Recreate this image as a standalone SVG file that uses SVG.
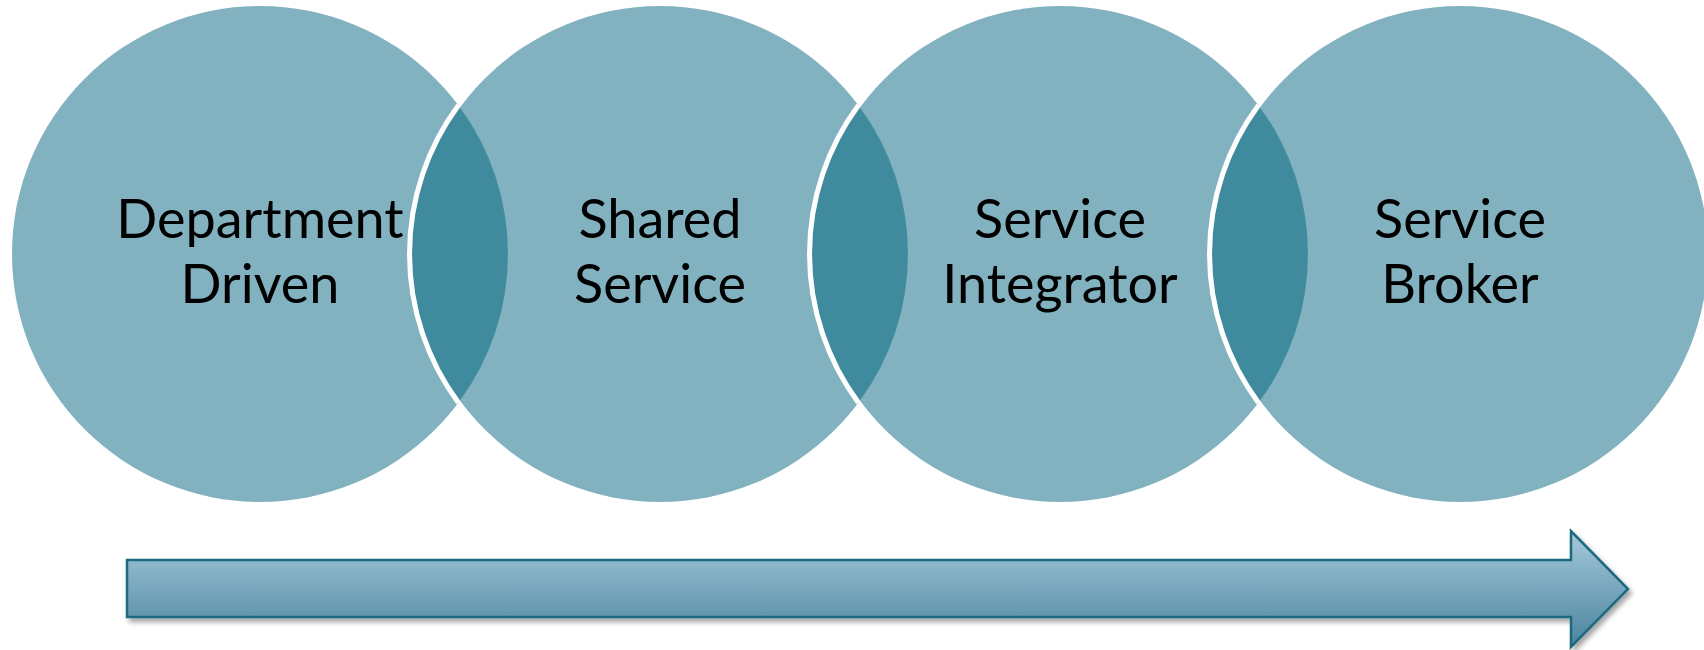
<svg xmlns="http://www.w3.org/2000/svg" width="1704" height="650" viewBox="0 0 1704 650">
<defs>
<style>
.c{fill:#82b2c0}
.lens{fill:#3f8a9c}
.sep{fill:none;stroke:#ffffff;stroke-width:5}
.t{font-family:"Lato","Liberation Sans",sans-serif;font-size:54px;fill:#000;text-anchor:middle}
</style>
<linearGradient id="ag" x1="0" y1="0" x2="0" y2="1">
<stop offset="0" stop-color="#a6c9dc"/>
<stop offset="1" stop-color="#4a849d"/>
</linearGradient>
<filter id="sh" x="-5%" y="-30%" width="110%" height="160%">
<feGaussianBlur in="SourceAlpha" stdDeviation="2.5"/>
<feOffset dx="3" dy="4" result="b"/>
<feComponentTransfer><feFuncA type="linear" slope="0.35"/></feComponentTransfer>
<feMerge><feMergeNode/><feMergeNode in="SourceGraphic"/></feMerge>
</filter>
</defs>
<rect width="1704" height="650" fill="#ffffff"/>
<g id="node1"><circle class="c" cx="260" cy="254" r="248"/></g>
<g id="node2"><circle class="c" cx="660" cy="254" r="248"/></g>
<g id="node3"><circle class="c" cx="1060" cy="254" r="248"/></g>
<g id="node4"><circle class="c" cx="1460" cy="254" r="248"/></g>
<g id="overlaps">
<path class="lens" d="M460 107.4A248 248 0 0 1 460 400.6A248 248 0 0 1 460 107.4Z"/>
<path class="lens" d="M860 107.4A248 248 0 0 1 860 400.6A248 248 0 0 1 860 107.4Z"/>
<path class="lens" d="M1260 107.4A248 248 0 0 1 1260 400.6A248 248 0 0 1 1260 107.4Z"/>
<path class="sep" d="M458.4 105.3A250.5 250.5 0 0 0 458.4 402.7"/>
<path class="sep" d="M858.4 105.3A250.5 250.5 0 0 0 858.4 402.7"/>
<path class="sep" d="M1258.4 105.3A250.5 250.5 0 0 0 1258.4 402.7"/>
</g>
<g id="labels">
<text class="t" x="260" y="238">Department</text>
<text class="t" x="260" y="303">Driven</text>
<text class="t" x="660" y="238">Shared</text>
<text class="t" x="660" y="303">Service</text>
<text class="t" x="1060" y="238">Service</text>
<text class="t" x="1060" y="303">Integrator</text>
<text class="t" x="1460" y="238">Service</text>
<text class="t" x="1460" y="303">Broker</text>
</g>
<g id="arrow" filter="url(#sh)">
<path d="M127 560H1571V531L1628 589L1571 647V617H127Z" fill="url(#ag)" stroke="#1e6a80" stroke-width="2.5" stroke-linejoin="miter"/>
</g>
</svg>
